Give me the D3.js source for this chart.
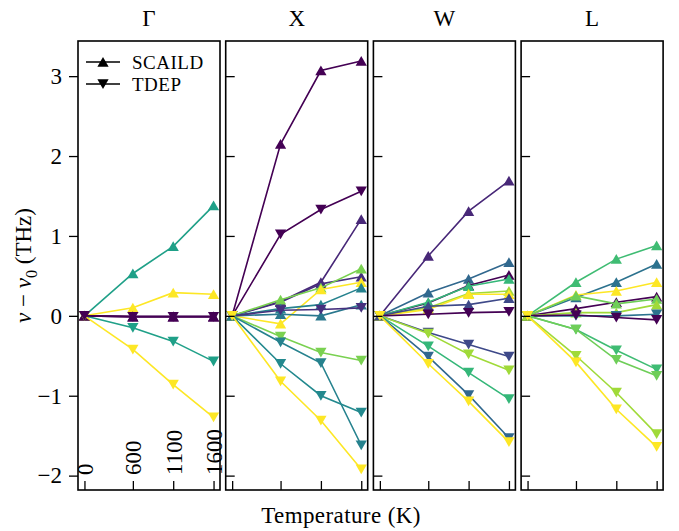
<!DOCTYPE html>
<html>
<head>
<meta charset="utf-8">
<script src="https://cdn.jsdelivr.net/npm/d3@7"></script>
<style>
  body { margin: 0; background: #fff; }
  text { font-family: "Liberation Serif", "DejaVu Serif", serif; fill: #000; }
</style>
</head>
<body>
<div id="chart"></div>
<script>
// temperatures on the x axis (K)
const temps = [0, 600, 1100, 1600];
const panelNames = ["Γ", "X", "W", "L"];
const yTicks = [-2, -1, 0, 1, 2, 3];

// frequency shifts nu - nu0 (THz), one row per line
const gammaMethods = ["SCAILD", "SCAILD", "SCAILD", "SCAILD", "TDEP", "TDEP", "TDEP"];
const gammaValues = [
    [0, 0.53, 0.87, 1.38],
    [0, 0.10, 0.29, 0.27],
    [0, -0.01, -0.01, -0.01],
    [0, -0.01, -0.01, -0.01],
    [0, -0.15, -0.32, -0.57],
    [0, -0.42, -0.86, -1.27],
    [0, -0.01, -0.01, -0.01]
];

const xMethods = ["SCAILD", "TDEP", "SCAILD", "SCAILD", "SCAILD", "SCAILD", "SCAILD", "SCAILD",
    "TDEP", "TDEP", "TDEP", "TDEP", "TDEP"];
const xValues = [
    [0, 2.15, 3.07, 3.19],
    [0, 1.02, 1.33, 1.56],
    [0, 0.18, 0.42, 1.21],
    [0, 0.17, 0.40, 0.49],
    [0, 0.20, 0.35, 0.59],
    [0, -0.10, 0.33, 0.42],
    [0, 0.09, 0.14, 0.35],
    [0, 0.02, 0.00, 0.14],
    [0, 0.07, 0.08, 0.10],
    [0, -0.26, -0.46, -0.56],
    [0, -0.33, -0.59, -1.62],
    [0, -0.60, -1.00, -1.21],
    [0, -0.82, -1.31, -1.92]
];

const wMethods = ["SCAILD", "SCAILD", "SCAILD", "SCAILD", "SCAILD", "SCAILD", "SCAILD",
    "TDEP", "TDEP", "TDEP", "TDEP", "TDEP", "TDEP"];
const wValues = [
    [0, 0.75, 1.31, 1.69],
    [0, 0.29, 0.46, 0.67],
    [0, 0.16, 0.38, 0.51],
    [0, 0.17, 0.37, 0.46],
    [0, 0.10, 0.28, 0.31],
    [0, 0.08, 0.27, 0.27],
    [0, 0.12, 0.14, 0.22],
    [0, 0.02, 0.04, 0.05],
    [0, -0.21, -0.36, -0.51],
    [0, -0.22, -0.48, -0.68],
    [0, -0.38, -0.71, -1.04],
    [0, -0.51, -0.99, -1.53],
    [0, -0.60, -1.07, -1.58]
];

const lMethods = ["SCAILD", "SCAILD", "SCAILD", "SCAILD", "SCAILD", "SCAILD",
    "TDEP", "TDEP", "TDEP", "TDEP", "TDEP", "TDEP"];
const lValues = [
    [0, 0.42, 0.71, 0.88],
    [0, 0.23, 0.42, 0.65],
    [0, 0.26, 0.31, 0.42],
    [0, 0.09, 0.17, 0.24],
    [0, 0.25, 0.15, 0.21],
    [0, 0.04, 0.04, 0.14],
    [0, 0.00, 0.00, 0.02],
    [0, 0.01, -0.02, -0.05],
    [0, -0.17, -0.43, -0.67],
    [0, -0.17, -0.55, -0.75],
    [0, -0.50, -0.96, -1.48],
    [0, -0.58, -1.17, -1.64]
];

// line colours (viridis shades), same order as the value rows
const gammaColors = ["#1fa088", "#fde725", "#440154", "#440154", "#1fa088", "#fde725", "#440154"];
const xColors = ["#440154", "#440154", "#482878", "#46307e", "#7ad151", "#fde725", "#26828e", "#2a788e",
    "#46307e", "#7ad151", "#26828e", "#23898e", "#fde725"];
const wColors = ["#482878", "#31688e", "#440154", "#35b779", "#a0da39", "#fde725", "#3e4989",
    "#440154", "#3e4989", "#a0da39", "#35b779", "#31688e", "#fde725"];
const lColors = ["#3fbc73", "#2c728e", "#fde725", "#440154", "#6ece58", "#a0da39",
    "#2c728e", "#440154", "#3fbc73", "#6ece58", "#a0da39", "#fde725"];

const panelData = [
    {values: gammaValues, methods: gammaMethods, colors: gammaColors},
    {values: xValues, methods: xMethods, colors: xColors},
    {values: wValues, methods: wMethods, colors: wColors},
    {values: lValues, methods: lMethods, colors: lColors}
];

const width = 679, height = 531;
const margin = {top: 41, bottom: 41, left: 78};
const panelW = 142, panelStep = 147.7;
const plotH = height - margin.top - margin.bottom;
const fontSize = 23;

const svg = d3.select("#chart").append("svg")
    .attr("width", width)
    .attr("height", height);

const y = d3.scaleLinear()
    .domain([-2.18, 3.44])
    .range([margin.top + plotH, margin.top]);

const triUp = d3.symbol().type(d3.symbolTriangle).size(55);
const triShift = 1.5; // centre the triangle's box on the point, like matplotlib

panelData.forEach((pd, p) => {
    let left = margin.left + p * panelStep;
    let x = d3.scaleLinear().domain([-80, 1680]).range([left, left + panelW]);

    let g = svg.append("g");

    // clip so lines stay inside the axes box
    let clipId = "clip" + p;
    svg.append("clipPath").attr("id", clipId)
        .append("rect")
        .attr("x", left).attr("y", margin.top)
        .attr("width", panelW).attr("height", plotH);

    let plot = g.append("g").attr("clip-path", `url(#${clipId})`);

    let line = d3.line()
        .x((d, i) => x(temps[i]))
        .y(d => y(d));

    pd.values.forEach((vals, k) => {
        let col = pd.colors[k];
        let down = pd.methods[k] === "TDEP";
        plot.append("path")
            .attr("d", line(vals))
            .attr("fill", "none")
            .attr("stroke", col)
            .attr("stroke-width", 1.6);
        plot.selectAll(null)
            .data(vals)
            .enter()
            .append("path")
            .attr("d", triUp)
            .attr("transform", (d, i) => down
                ? `translate(${x(temps[i])},${y(d) - triShift}) rotate(180)`
                : `translate(${x(temps[i])},${y(d) + triShift})`)
            .attr("fill", col);
    });

    // y ticks: outward on the first panel, inward on the others
    let yAxis = p === 0
        ? d3.axisLeft(y).tickValues(yTicks).tickSize(9).tickPadding(7).tickFormat(d => d < 0 ? "−" + Math.abs(d) : d)
        : d3.axisLeft(y).tickValues(yTicks).tickSize(-9).tickFormat("");
    let ya = g.append("g")
        .attr("transform", `translate(${left},0)`)
        .call(yAxis);
    ya.select(".domain").remove();
    ya.selectAll("line").attr("stroke", "#000").attr("stroke-width", 1.3);
    ya.selectAll("text")
        .style("font-family", "'Liberation Serif', serif")
        .style("font-size", fontSize + "px");

    // x ticks point into the axes
    let xa = g.append("g")
        .attr("transform", `translate(0,${margin.top + plotH})`)
        .call(d3.axisBottom(x).tickValues(temps).tickSize(-9).tickFormat(""));
    xa.select(".domain").remove();
    xa.selectAll("line").attr("stroke", "#000").attr("stroke-width", 1.3);

    if (p === 0) {
        g.selectAll(".xlab")
            .data(temps)
            .enter()
            .append("text")
            .attr("class", "xlab")
            .attr("transform", d => `translate(${x(d) + 1},${margin.top + plotH - 15}) rotate(-90)`)
            .attr("dominant-baseline", "central")
            .style("font-size", fontSize + "px")
            .text(d => d);
    }

    // axes frame
    g.append("rect")
        .attr("x", left).attr("y", margin.top)
        .attr("width", panelW).attr("height", plotH)
        .attr("fill", "none")
        .attr("stroke", "#000")
        .attr("stroke-width", 1.6);

    g.append("text")
        .attr("x", left + panelW / 2)
        .attr("y", 26)
        .attr("text-anchor", "middle")
        .style("font-size", fontSize + "px")
        .text(panelNames[p]);
});

// legend
const legendItems = ["SCAILD", "TDEP"];
const legend = svg.append("g");
legendItems.forEach((name, i) => {
    let ly = 62 + i * 22;
    legend.append("line")
        .attr("x1", 86).attr("x2", 120)
        .attr("y1", ly).attr("y2", ly)
        .attr("stroke", "#000").attr("stroke-width", 1.6);
    legend.append("path")
        .attr("d", triUp)
        .attr("transform", i === 1 ? `translate(103,${ly - triShift}) rotate(180)` : `translate(103,${ly + triShift})`)
        .attr("fill", "#000");
    legend.append("text")
        .attr("x", 132).attr("y", ly + 6.5)
        .style("font-size", "19px")
        .style("letter-spacing", "0.5px")
        .text(name);
});

// axis labels
svg.append("text")
    .attr("x", 341).attr("y", 523)
    .attr("text-anchor", "middle")
    .style("font-size", fontSize + "px")
    .style("letter-spacing", "0.4px")
    .text("Temperature (K)");

const yl = svg.append("text")
    .attr("transform", `translate(23,${margin.top + plotH / 2}) rotate(-90)`)
    .attr("text-anchor", "middle")
    .attr("dominant-baseline", "central")
    .style("font-size", fontSize + "px");
yl.append("tspan").style("font-style", "italic").text("ν");
yl.append("tspan").text(" − ");
yl.append("tspan").style("font-style", "italic").text("ν");
yl.append("tspan").attr("baseline-shift", "sub").style("font-size", "16px").text("0");
yl.append("tspan").text(" (THz)");
</script>
</body>
</html>
